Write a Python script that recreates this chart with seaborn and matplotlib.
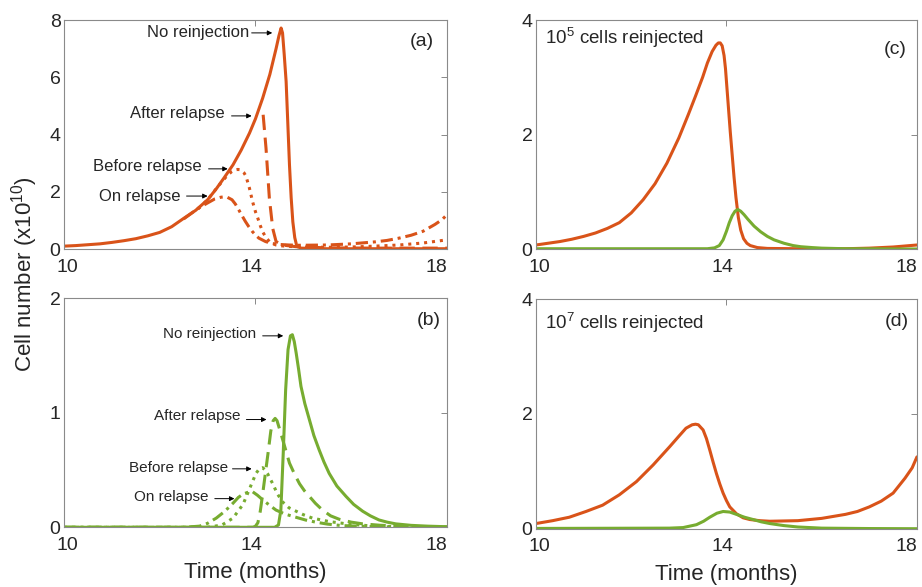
import matplotlib
matplotlib.use("Agg")
import matplotlib.pyplot as plt
from matplotlib.transforms import ScaledTranslation
import seaborn as sns

RED = "#D95319"
GREEN = "#77AC30"

# ---- panel (a): red population, reinjection timing ----
a_none_t = [10, 10.25, 10.5, 10.75, 11, 11.25, 11.5, 11.75, 12, 12.25, 12.5, 12.75,
            13.0, 13.18, 13.35, 13.53, 13.7, 13.875, 14.0, 14.15, 14.3, 14.43, 14.49,
            14.535, 14.565, 14.6, 14.64, 14.675, 14.71, 14.745, 14.78, 14.82, 14.86,
            14.95, 15.5, 16.5, 18]
a_none_y = [0.10, 0.12, 0.15, 0.18, 0.23, 0.29, 0.36, 0.46, 0.58, 0.78, 1.07, 1.35,
            1.72, 2.1, 2.5, 2.94, 3.45, 4.05, 4.55, 5.27, 6.1, 7.0, 7.45,
            7.72, 7.55, 6.8, 5.85, 4.4, 2.94, 1.8, 0.95, 0.4, 0.12,
            0.03, 0.01, 0.01, 0.01]

a_after_t = [14.16, 14.22, 14.29, 14.36, 14.43, 14.56, 14.85, 15.5, 16.5, 17.5, 18]
a_after_y = [4.69, 3.52, 1.77, 0.72, 0.26, 0.14, 0.08, 0.04, 0.03, 0.03, 0.03]

a_before_t = [12.8, 13.0, 13.2, 13.4, 13.5, 13.57, 13.63, 13.68, 13.72, 13.76, 13.8,
              13.87, 13.94, 14.0, 14.05, 14.1, 14.15, 14.22, 14.29, 14.36, 14.43, 14.55,
              14.7, 15, 15.5, 16, 16.5, 17, 17.5, 18]
a_before_y = [1.4, 1.72, 2.15, 2.55, 2.7, 2.76, 2.78, 2.77, 2.72, 2.66, 2.55,
              2.15, 1.65, 1.3, 1.07, 0.82, 0.6, 0.4, 0.26, 0.19, 0.14, 0.11,
              0.09, 0.07, 0.06, 0.07, 0.1, 0.14, 0.21, 0.32]

a_on_t = [12.5, 12.81, 13.0, 13.15, 13.28, 13.35, 13.41, 13.51, 13.58, 13.65, 13.72,
          13.79, 13.86, 13.93, 14.0, 14.07, 14.21, 14.35, 14.49, 14.7, 14.91, 15.5, 16,
          16.5, 16.75, 17, 17.25, 17.5, 17.75, 17.9, 18]
a_on_y = [1.05, 1.43, 1.61, 1.75, 1.81, 1.82, 1.81, 1.72, 1.57, 1.37, 1.16,
          0.96, 0.78, 0.62, 0.49, 0.38, 0.26, 0.19, 0.16, 0.14, 0.13, 0.14, 0.18,
          0.25, 0.3, 0.38, 0.48, 0.62, 0.86, 1.03, 1.2]

# ---- panel (b): green population, reinjection timing ----
b_none_t = [10, 14.4, 14.48, 14.53, 14.58, 14.63, 14.68, 14.73, 14.77, 14.81, 14.85,
            14.9, 14.95, 15.03, 15.125, 15.22, 15.33, 15.43, 15.54, 15.7, 15.89, 16.05,
            16.24, 16.4, 16.58, 16.75, 16.93, 17.25, 17.6, 18]
b_none_y = [0.0, 0.0, 0.02, 0.15, 0.65, 1.2, 1.55, 1.67, 1.68, 1.62, 1.52,
            1.38, 1.23, 1.08, 0.94, 0.8, 0.675, 0.57, 0.47, 0.36, 0.27, 0.2,
            0.14, 0.1, 0.064, 0.045, 0.03, 0.017, 0.01, 0.005]

b_after_t = [10, 13.95, 14.0, 14.05, 14.1, 14.15, 14.2, 14.26, 14.32, 14.37, 14.41,
             14.45, 14.53, 14.62, 14.71, 14.82, 14.92, 15.02, 15.125, 15.25, 15.4,
             15.57, 15.75, 16.0, 16.24, 16.6, 17, 18]
b_after_y = [0.0, 0.0, 0.01, 0.04, 0.14, 0.29, 0.45, 0.64, 0.84, 0.93, 0.95,
             0.93, 0.82, 0.69, 0.56, 0.46, 0.38, 0.32, 0.27, 0.21, 0.15,
             0.1, 0.07, 0.045, 0.03, 0.018, 0.01, 0.0]

b_before_t = [10, 13.0, 13.3, 13.53, 13.74, 13.88, 14.01, 14.08, 14.15, 14.2, 14.25,
              14.36, 14.46, 14.57, 14.7, 14.85, 15.0, 15.19, 15.54, 16, 16.5, 17, 18]
b_before_y = [0.0, 0.0, 0.02, 0.08, 0.2, 0.34, 0.47, 0.51, 0.52, 0.5, 0.47,
              0.38, 0.29, 0.22, 0.17, 0.14, 0.11, 0.08, 0.05, 0.025, 0.01, 0.005, 0.0]

b_on_t = [10, 12.5, 12.83, 13.0, 13.18, 13.36, 13.53, 13.64, 13.74, 13.84, 13.94,
          14.04, 14.15, 14.3, 14.43, 14.62, 14.85, 15.05, 15.26, 15.5, 15.8, 16.5, 18]
b_on_y = [0.0, 0.0, 0.01, 0.035, 0.08, 0.14, 0.21, 0.26, 0.29, 0.305, 0.31,
          0.28, 0.24, 0.19, 0.15, 0.115, 0.087, 0.063, 0.045, 0.028, 0.015, 0.005, 0.0]

# ---- panel (c): 10^5 cells reinjected ----
c_red_t = [10, 10.25, 10.5, 10.75, 11.0, 11.25, 11.5, 11.75, 12.0, 12.25, 12.5,
           12.75, 13.0, 13.2, 13.35, 13.5, 13.6, 13.7, 13.78, 13.83, 13.87, 13.91,
           13.95, 13.98, 14.03, 14.08, 14.12, 14.16, 14.2, 14.25, 14.3, 14.36, 14.43,
           14.5, 14.65, 14.86, 15.5, 16.5, 17, 17.5, 18]
c_red_y = [0.07, 0.1, 0.13, 0.17, 0.22, 0.28, 0.36, 0.46, 0.63, 0.86, 1.14,
           1.5, 1.94, 2.35, 2.67, 3.0, 3.25, 3.45, 3.56, 3.6, 3.6, 3.55,
           3.38, 3.15, 2.6, 2.05, 1.65, 1.25, 0.9, 0.55, 0.33, 0.18, 0.1,
           0.06, 0.025, 0.01, 0.005, 0.005, 0.015, 0.035, 0.07]
c_green_t = [10, 13.6, 13.75, 13.85, 13.93, 14.0, 14.06, 14.12, 14.18, 14.24, 14.3,
             14.37, 14.45, 14.58, 14.72, 14.86, 15.0, 15.21, 15.4, 15.56, 15.8, 16,
             16.5, 18]
c_green_y = [0.005, 0.005, 0.02, 0.06, 0.16, 0.31, 0.46, 0.58, 0.66, 0.69, 0.66,
             0.6, 0.52, 0.4, 0.3, 0.22, 0.16, 0.1, 0.06, 0.04, 0.025, 0.015,
             0.005, 0.0]

# ---- panel (d): 10^7 cells reinjected ----
d_red_t = [10, 10.35, 10.7, 11.05, 11.4, 11.75, 12.11, 12.46, 12.81, 13.0, 13.15,
           13.28, 13.35, 13.41, 13.51, 13.58, 13.65, 13.72, 13.79, 13.86, 13.93, 14.0,
           14.07, 14.21, 14.35, 14.49, 14.7, 14.91, 15.5, 16, 16.5, 16.75, 17, 17.25,
           17.5, 17.75, 17.9, 18]
d_red_y = [0.09, 0.14, 0.2, 0.3, 0.41, 0.59, 0.82, 1.11, 1.43, 1.61, 1.75,
           1.81, 1.82, 1.81, 1.72, 1.57, 1.37, 1.16, 0.96, 0.78, 0.62, 0.49,
           0.38, 0.26, 0.19, 0.16, 0.14, 0.13, 0.14, 0.18, 0.25, 0.3, 0.38, 0.48,
           0.62, 0.88, 1.06, 1.25]
d_green_t = [10, 12.8, 13.09, 13.37, 13.52, 13.65, 13.8, 13.93, 14.07, 14.21, 14.38,
             14.56, 14.73, 14.91, 15.2, 15.5, 16, 17, 18]
d_green_y = [0.005, 0.01, 0.02, 0.07, 0.13, 0.2, 0.27, 0.3, 0.29, 0.25, 0.2,
             0.16, 0.12, 0.09, 0.055, 0.03, 0.01, 0.003, 0.0]

x_ticks = [10, 14, 18]

sns.set_style("white")
plt.rcParams["font.family"] = ["Liberation Sans", "DejaVu Sans"]
plt.rcParams["mathtext.fontset"] = "custom"
plt.rcParams["mathtext.rm"] = "Liberation Sans"

fig = plt.figure(figsize=(9.22, 5.87), dpi=100)
ax_a = fig.add_axes([0.0694, 0.5758, 0.4154, 0.3901])
ax_b = fig.add_axes([0.0694, 0.1017, 0.4154, 0.3906])
ax_c = fig.add_axes([0.5813, 0.5758, 0.4132, 0.3901])
ax_d = fig.add_axes([0.5813, 0.0993, 0.4132, 0.3913])

LW = 2.2
DASH = (0, (5, 2.5))
DOT = (0, (1, 1.6))
DASHDOT = (0, (4, 1.6, 1, 1.6))

def draw(ax, t, y, color, ls="-"):
    sns.lineplot(x=t, y=y, ax=ax, color=color, linestyle=ls, lw=LW)

draw(ax_a, a_on_t, a_on_y, RED, DASHDOT)
draw(ax_a, a_before_t, a_before_y, RED, DOT)
draw(ax_a, a_after_t, a_after_y, RED, DASH)
draw(ax_a, a_none_t, a_none_y, RED)

draw(ax_b, b_on_t, b_on_y, GREEN, DASHDOT)
draw(ax_b, b_before_t, b_before_y, GREEN, DOT)
draw(ax_b, b_after_t, b_after_y, GREEN, DASH)
draw(ax_b, b_none_t, b_none_y, GREEN)

draw(ax_c, c_red_t, c_red_y, RED)
draw(ax_c, c_green_t, c_green_y, GREEN)

draw(ax_d, d_red_t, d_red_y, RED)
draw(ax_d, d_green_t, d_green_y, GREEN)

# tick labels in the original sit slightly off their ticks (last one flush right)
x_label_shift = [3.5, -4, -11]

for ax, ymax, yt in [(ax_a, 8, [0, 2, 4, 6, 8]), (ax_b, 2, [0, 1, 2]),
                     (ax_c, 4, [0, 2, 4]), (ax_d, 4, [0, 2, 4])]:
    ax.set_xlim(10, 18)
    ax.set_ylim(0, ymax)
    ax.set_xticks(x_ticks)
    ax.set_yticks(yt)
    ax.set_xlabel("")
    ax.set_ylabel("")
    ax.tick_params(direction="in", length=4, width=0.7, color="#888888",
                   top=True, right=True, labelsize=14, pad=2.5)
    ax.tick_params(axis="x", pad=7)
    for sp in ax.spines.values():
        sp.set_color("#8a8a8a")
        sp.set_linewidth(0.8)
    for tick, dx in zip(ax.xaxis.get_major_ticks(), x_label_shift):
        lab = tick.label1
        lab.set_transform(lab.get_transform() +
                          ScaledTranslation(dx / 100, 0, fig.dpi_scale_trans))

ax_b.set_xlabel("Time (months)", fontsize=16, labelpad=6)
ax_d.set_xlabel("Time (months)", fontsize=16, labelpad=6)
fig.text(0.027, 0.533, "Cell number (x10$^{\\mathregular{10}}$)", rotation=90,
         ha="center", va="center", fontsize=16)

# panel tags
ax_a.text(17.73, 7.24, "(a)", ha="right", va="center", fontsize=14)
ax_b.text(17.875, 1.80, "(b)", ha="right", va="center", fontsize=14)
ax_c.text(17.79, 3.48, "(c)", ha="right", va="center", fontsize=14)
ax_d.text(17.83, 3.60, "(d)", ha="right", va="center", fontsize=14)

ax_c.text(10.19, 3.69, "10$^{\\mathregular{5}}$ cells reinjected", ha="left",
          va="center", fontsize=13.5)
ax_d.text(10.19, 3.59, "10$^{\\mathregular{7}}$ cells reinjected", ha="left",
          va="center", fontsize=13.5)

arrow = dict(arrowstyle="-|>", color="black", lw=0.7, mutation_scale=7,
             shrinkA=0, shrinkB=0)

def label(ax, text, x_end, y, x0, x1, ya, size):
    ax.text(x_end, y, text, ha="right", va="center", fontsize=size)
    ax.annotate("", xy=(x1, ya), xytext=(x0, ya), arrowprops=arrow)

label(ax_a, "No reinjection", 13.875, 7.55, 13.92, 14.35, 7.55, 12)
label(ax_a, "After relapse", 13.35, 4.72, 13.5, 13.92, 4.65, 12)
label(ax_a, "Before relapse", 12.875, 2.87, 13.02, 13.42, 2.8, 12)
label(ax_a, "On relapse", 12.44, 1.85, 12.56, 13.0, 1.85, 12)

label(ax_b, "No reinjection", 14.02, 1.69, 14.15, 14.58, 1.67, 11)
label(ax_b, "After relapse", 13.69, 0.97, 13.81, 14.23, 0.94, 11)
label(ax_b, "Before relapse", 13.42, 0.52, 13.52, 13.92, 0.51, 11)
label(ax_b, "On relapse", 13.02, 0.26, 13.15, 13.56, 0.25, 11)

fig.savefig("out.png", dpi=100)
